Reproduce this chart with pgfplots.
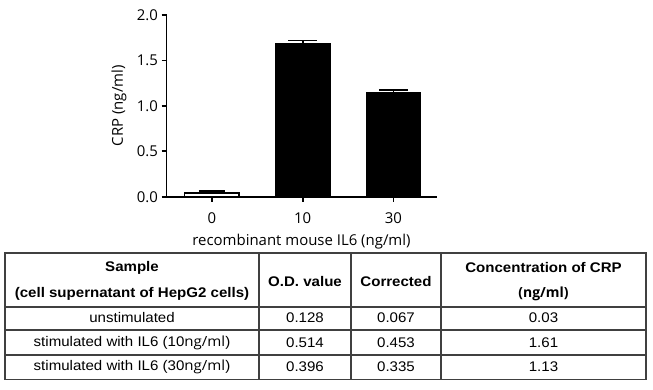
\documentclass[border=0pt]{standalone}
\usepackage{pgfplots}
\pgfplotsset{compat=1.18}
\usepackage{fontspec}
\setmainfont{Liberation Sans}
\newfontfamily\chartfont{Open Sans}
\newcommand\tabfont{\fontsize{14}{16}\selectfont}
\newcommand\hs[1]{\scalebox{1.08}[1]{#1}}
\begin{document}
\begin{tikzpicture}[x=1bp,y=1bp]
\useasboundingbox (0,0) rectangle (653,389);
\begin{axis}[
  at={(166.5bp,192.3bp)}, anchor=south west,
  scale only axis, width=270.5bp, height=181.7bp,
  xmin=-0.5, xmax=2.48, ymin=0, ymax=2,
  axis lines=left,
  axis line style={-, line width=1.8bp},
  tick style={line width=1.8bp, black},
  major tick length=5bp,
  tick align=outside,
  xtick={0,1,2}, xticklabels={0,10,30},
  ytick={0,0.5,1,1.5,2},
  yticklabel style={/pgf/number format/.cd, fixed, fixed zerofill, precision=1},
  xticklabel style={yshift=-7bp},
  /pgf/number format/assume math mode=true,
  ticklabel style={font=\chartfont\fontsize{15}{17}\selectfont},
  label style={font=\chartfont\fontsize{15}{17}\selectfont},
  xlabel={recombinant mouse IL6 (ng/ml)},
  ylabel={CRP (ng/ml)},
  xlabel style={at={(axis description cs:0.499,-0.249)}, anchor=center},
  ylabel style={at={(axis description cs:-0.176,0.5)}, anchor=center},
  clip=false,
]
\addplot[ybar, bar width=0.6, bar shift=0pt, fill=white, draw=black, line width=1.6bp,
  error bars/.cd, y dir=plus, y explicit,
  error bar style={line width=1.8bp, black},
  error mark options={rotate=90, mark size=13bp, line width=1.8bp, black}]
  coordinates {(0,0.04) +- (0,0.02)};
\addplot[ybar, bar width=0.6, bar shift=0pt, fill=black, draw=black, line width=0.5bp,
  error bars/.cd, y dir=plus, y explicit,
  error bar style={line width=1.8bp, black},
  error mark options={rotate=90, mark size=14.5bp, line width=1.8bp, black}]
  coordinates {(1,1.69) +- (0,0.03) (2,1.145) +- (0,0.03)};
\end{axis}
% table
\begin{scope}[line width=1.3bp, draw=black!75]
\draw (5,136) rectangle (646,9.5);
\draw (5,82) -- (646,82);
\draw (5,59) -- (646,59);
\draw (5,34) -- (646,34);
\draw (259,136) -- (259,9.5);
\draw (351,136) -- (351,9.5);
\draw (441,136) -- (441,9.5);
\end{scope}
\begin{scope}[every node/.style={font=\tabfont, inner sep=0pt, anchor=center}]
\node[font=\tabfont\bfseries] at (132,121) {\hs{Sample}};
\node[font=\tabfont\bfseries] at (132,95) {\hs{(cell supernatant of HepG2 cells)}};
\node[font=\tabfont\bfseries] at (305,107) {\hs{O.D. value}};
\node[font=\tabfont\bfseries] at (396,107) {\hs{Corrected}};
\node[font=\tabfont\bfseries] at (543.5,121) {\hs{Concentration of CRP}};
\node[font=\chartfont\bfseries\fontsize{14}{16}\selectfont] at (543.5,95) {(ng/ml)};
\node at (132,71) {\hs{unstimulated}};
\node at (132,46) {\hs{stimulated with IL6 (10{\chartfont ng/ml})}};
\node at (132,22) {\hs{stimulated with IL6 (30{\chartfont ng/ml})}};
\node at (305,71) {\hs{0.128}};
\node at (305,46) {\hs{0.514}};
\node at (305,22) {\hs{0.396}};
\node at (396,71) {\hs{0.067}};
\node at (396,46) {\hs{0.453}};
\node at (396,22) {\hs{0.335}};
\node at (543.5,71) {\hs{0.03}};
\node at (543.5,46) {\hs{1.61}};
\node at (543.5,22) {\hs{1.13}};
\end{scope}
\end{tikzpicture}
\end{document}
